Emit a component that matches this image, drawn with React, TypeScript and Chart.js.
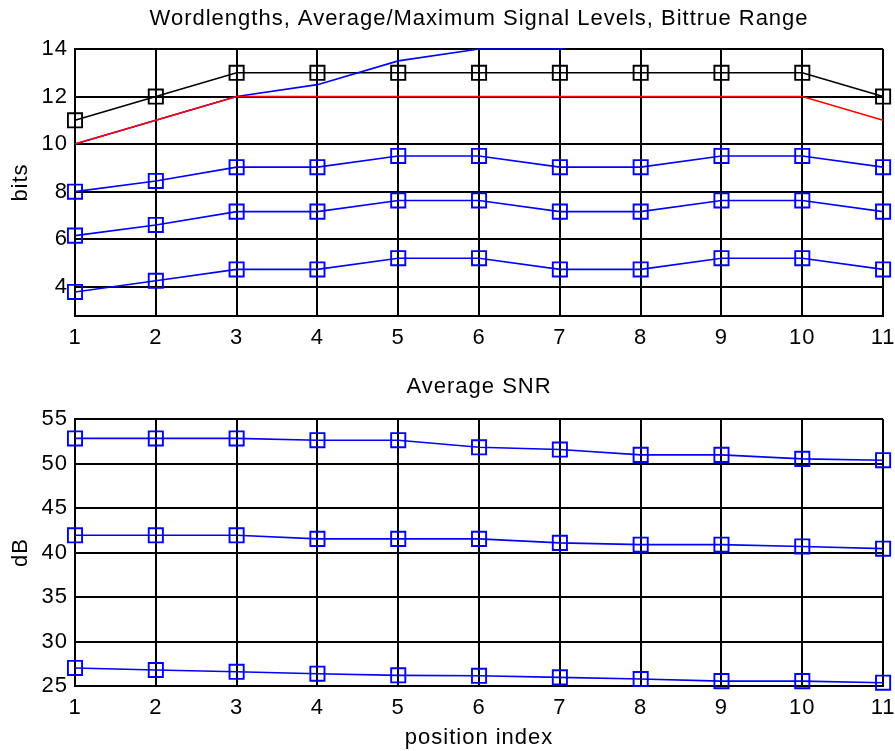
import React, { useEffect, useRef } from 'react';
import { Chart, registerables } from 'chart.js';

Chart.register(...registerables);

// ---------- data ----------
const positions = [1, 2, 3, 4, 5, 6, 7, 8, 9, 10, 11];
const bitTicks = [4, 6, 8, 10, 12, 14];
const dbTicks = [25, 30, 35, 40, 45, 50, 55];

const wordlength = [11, 12, 13, 13, 13, 13, 13, 13, 13, 13, 12];
const bittrueLow = [10, 11, 12, 12, 12, 12, 12, 12, 12, 12, 11];
const bittrueHigh = [10, 11, 12, 12.5, 13.5, 14, 14, 15, 15, 15, 15];
const maxSignal = [8, 8.45, 9.03, 9.03, 9.5, 9.5, 9.03, 9.03, 9.5, 9.5, 9.03];
const avgSignal = [6.15, 6.6, 7.16, 7.16, 7.63, 7.63, 7.16, 7.16, 7.63, 7.63, 7.16];
const minSignal = [3.78, 4.25, 4.73, 4.73, 5.2, 5.2, 4.73, 4.73, 5.2, 5.2, 4.73];

const snrHigh = [52.85, 52.85, 52.85, 52.65, 52.65, 51.85, 51.6, 51.0, 51.0, 50.55, 50.4];
const snrMid = [41.95, 41.95, 41.95, 41.55, 41.55, 41.55, 41.1, 40.9, 40.9, 40.7, 40.45];
const snrLow = [27.03, 26.8, 26.6, 26.38, 26.2, 26.15, 25.97, 25.78, 25.55, 25.55, 25.37];

// ---------- styling ----------
const FONT = "'Liberation Sans', Arial, Helvetica, sans-serif";
const FS = 22;
const BLUE = '#0000ff';
const W = 895;

const pts = (arr: number[]) => positions.map((p, i) => ({ x: p, y: arr[i] }));

const marked = (arr: number[], color: string) => ({
  data: pts(arr),
  borderColor: color,
  borderWidth: 1.6,
  pointStyle: 'rect',
  pointRadius: 10,
  pointBorderWidth: 1.9,
  pointBorderColor: color,
  pointBackgroundColor: 'rgba(0,0,0,0)',
  tension: 0,
  clip: false,
});

const plain = (arr: number[], color: string) => ({
  data: pts(arr),
  borderColor: color,
  borderWidth: 1.6,
  pointRadius: 0,
  tension: 0,
  clip: 1,
});

const spacingPlugin = {
  id: 'letterSpacing',
  beforeDraw: (chart: any) => {
    try {
      (chart.ctx as any).letterSpacing = '1px';
    } catch (e) {}
  },
};

function makeOptions(o: {
  title: string;
  titlePad: { top: number; bottom: number };
  yLabel: string;
  yMin: number;
  yMax: number;
  yTicks: number[];
  xHeight: number;
  xTitle?: string;
}) {
  const font = { family: FONT, size: FS };
  return {
    animation: false,
    responsive: false,
    maintainAspectRatio: false,
    events: [],
    layout: { padding: { left: 0, right: 9, top: 0, bottom: 0 } },
    plugins: {
      legend: { display: false },
      tooltip: { enabled: false },
      title: {
        display: true,
        fullSize: false,
        text: o.title,
        color: '#000',
        font: { ...font, weight: 'normal' },
        padding: o.titlePad,
      },
    },
    scales: {
      x: {
        type: 'linear',
        min: 1,
        max: 11,
        afterBuildTicks: (s: any) => {
          s.ticks = positions.map((v) => ({ value: v }));
        },
        afterFit: (s: any) => {
          s.height = o.xHeight;
          s.paddingLeft = 0;
          s.paddingRight = 0;
        },
        ticks: { color: '#000', font, padding: 9, maxRotation: 0, autoSkip: false },
        grid: { color: '#000', lineWidth: 2, drawTicks: false },
        border: { color: '#000', width: 2 },
        title: o.xTitle
          ? { display: true, text: o.xTitle, color: '#000', font, padding: { top: 0, bottom: 0 } }
          : { display: false },
      },
      y: {
        type: 'linear',
        min: o.yMin,
        max: o.yMax,
        afterBuildTicks: (s: any) => {
          s.ticks = o.yTicks.map((v) => ({ value: v }));
        },
        afterFit: (s: any) => {
          s.width = 75;
          s.paddingTop = 0;
          s.paddingBottom = 0;
        },
        ticks: { color: '#000', font, padding: 7, autoSkip: false },
        grid: { color: '#000', lineWidth: 2, drawTicks: false },
        border: { color: '#000', width: 2 },
        title: { display: true, text: o.yLabel, color: '#000', font, padding: { top: 7.5, bottom: 0 } },
      },
    },
  };
}

function Plot({ top, height, config }: { top: number; height: number; config: any }) {
  const ref = useRef<HTMLCanvasElement>(null);
  useEffect(() => {
    if (!ref.current) return;
    const chart = new Chart(ref.current, { ...config, plugins: [spacingPlugin] });
    return () => chart.destroy();
  }, []);
  return (
    <div style={{ position: 'absolute', left: 0, top, width: W, height }}>
      <canvas ref={ref} width={W} height={height} style={{ width: W, height, display: 'block' }} />
    </div>
  );
}

export default function App() {
  const topConfig = {
    type: 'line',
    data: {
      datasets: [
        plain(bittrueLow, '#ff0000'),
        plain(bittrueHigh, BLUE),
        marked(wordlength, '#000000'),
        marked(maxSignal, BLUE),
        marked(avgSignal, BLUE),
        marked(minSignal, BLUE),
      ],
    },
    options: makeOptions({
      title: 'Wordlengths, Average/Maximum Signal Levels, Bittrue Range',
      titlePad: { top: 5.5, bottom: 17.1 },
      yLabel: 'bits',
      yMin: 2.77,
      yMax: 14,
      yTicks: bitTicks,
      xHeight: 34,
    }),
  };
  const bottomConfig = {
    type: 'line',
    data: {
      datasets: [marked(snrHigh, BLUE), marked(snrMid, BLUE), marked(snrLow, BLUE)],
    },
    options: makeOptions({
      title: 'Average SNR',
      titlePad: { top: 24.1, bottom: 18.8 },
      yLabel: 'dB',
      yMin: 25,
      yMax: 55,
      yTicks: dbTicks,
      xHeight: 65,
      xTitle: 'position index',
    }),
  };
  return (
    <div style={{ position: 'absolute', left: 0, top: 0, width: W, height: 751, background: '#fff', overflow: 'hidden' }}>
      <Plot top={0} height={350} config={topConfig} />
      <Plot top={350} height={401} config={bottomConfig} />
    </div>
  );
}
